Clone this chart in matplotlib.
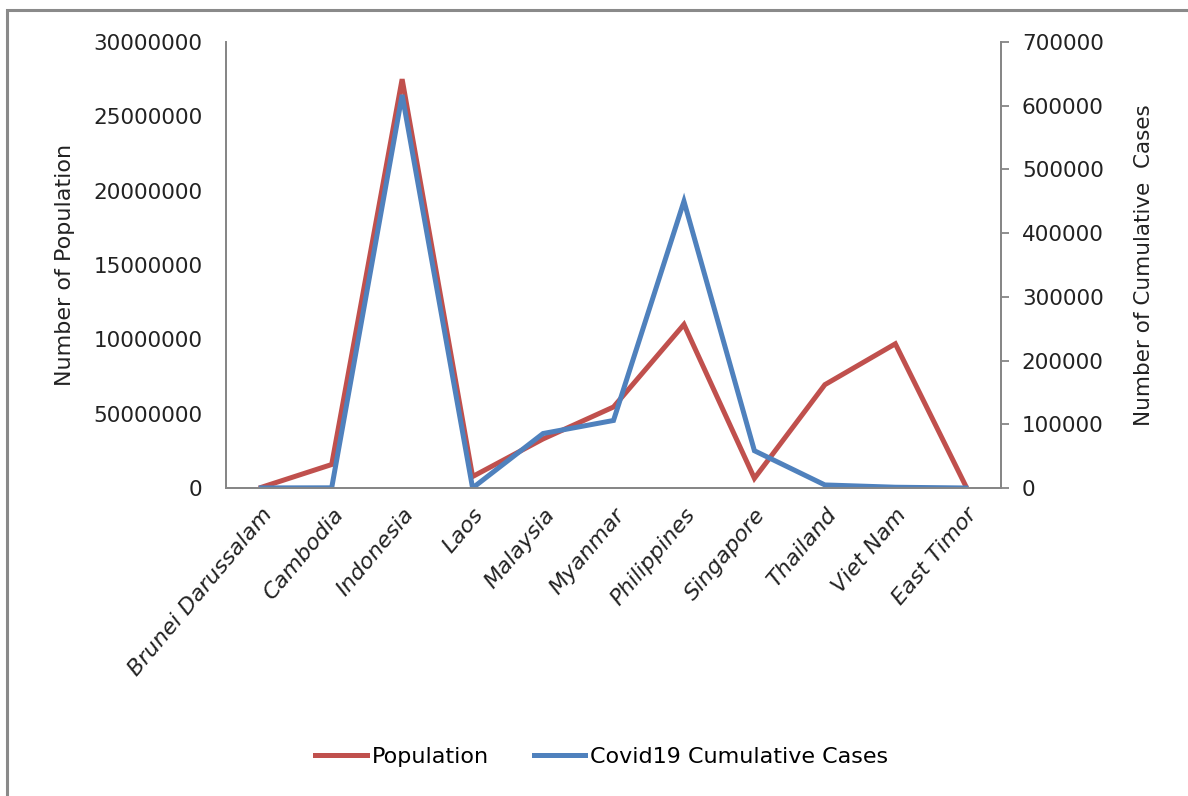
import matplotlib
matplotlib.use("Agg")
import matplotlib.pyplot as plt
from matplotlib.patches import Rectangle
from matplotlib.lines import Line2D

countries = ["Brunei Darussalam", "Cambodia", "Indonesia", "Laos", "Malaysia",
             "Myanmar", "Philippines", "Singapore", "Thailand", "Viet Nam", "East Timor"]
population = [43000, 1580000, 27500000, 770000, 3300000,
              5450000, 11000000, 650000, 6950000, 9700000, 130000]
covid_cases = [150, 290, 617000, 40, 85500,
               106000, 450000, 58500, 4800, 1200, 30]

pop_ticks = [0, 5000000, 10000000, 15000000, 20000000, 25000000, 30000000]
pop_tick_labels = ["0", "50000000", "10000000", "15000000", "20000000", "25000000", "30000000"]
case_ticks = [0, 100000, 200000, 300000, 400000, 500000, 600000, 700000]

RED = "#C0504D"
BLUE = "#4F81BD"
GREY = "#868686"
TXT = "#222222"
FS = 15.5
W, H = 1188, 796

plt.rcParams["font.family"] = ["DejaVu Sans"]
fig = plt.figure(figsize=(W / 100, H / 100), dpi=100)

left, right, top, bottom = 226, 1001, 42, 488
ax = fig.add_axes([left / W, 1 - bottom / H, (right - left) / W, (bottom - top) / H])
ax2 = ax.twinx()

x = list(range(len(countries)))
ax.plot(x, population, color=RED, lw=3.6, solid_joinstyle="miter")
ax2.plot(x, covid_cases, color=BLUE, lw=3.6, solid_joinstyle="miter")

ax.set_xlim(-0.5, len(countries) - 0.5)
ax.set_ylim(0, 30000000)
ax2.set_ylim(0, 700000)

ax.set_yticks(pop_ticks)
ax.set_yticklabels(pop_tick_labels)
ax2.set_yticks(case_ticks)
ax2.set_yticklabels([str(v) for v in case_ticks])

ax.set_xticks(x)
ax.set_xticklabels(countries, rotation=50, ha="right", rotation_mode="anchor",
                   style="italic")

for a in (ax, ax2):
    a.spines["top"].set_visible(False)
    for s in ("left", "right", "bottom"):
        a.spines[s].set_color(GREY)
        a.spines[s].set_linewidth(1.3)

ax.tick_params(axis="y", length=0, pad=17, labelsize=FS, colors=TXT)
ax.tick_params(axis="x", length=0, pad=12, labelsize=FS + 0.5, colors=TXT)
ax2.tick_params(axis="y", length=6, width=1.3, color=GREY, pad=9,
                labelsize=FS, labelcolor=TXT)

ax.set_ylabel("Number of Population", fontsize=FS + 0.5, color=TXT, labelpad=13)
ax2.set_ylabel("Number of Cumulative  Cases", fontsize=FS, color=TXT,
               rotation=90, labelpad=22)

handles = [Line2D([], [], color=RED, lw=3.6), Line2D([], [], color=BLUE, lw=3.6)]
fig.legend(handles, ["Population", "Covid19 Cumulative Cases"], loc="center",
           bbox_to_anchor=((602 / W), 1 - 757 / H), ncol=2, frameon=False,
           fontsize=FS + 0.5, handlelength=2.3, handletextpad=0.25,
           columnspacing=2.0)

fig.patches.append(Rectangle((7 / W, -0.05), 1.2, 1 - 10 / H + 0.05,
                             transform=fig.transFigure, fill=False,
                             edgecolor="#8a8a8a", lw=2.2))

fig.savefig("out.png", dpi=100)
